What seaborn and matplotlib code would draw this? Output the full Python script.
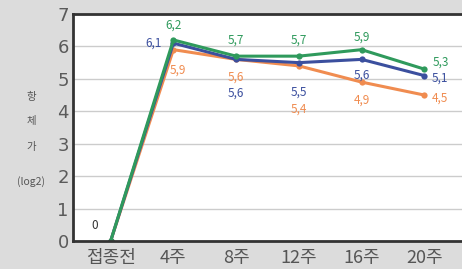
import matplotlib
matplotlib.use("Agg")
import matplotlib.pyplot as plt
import seaborn as sns
import pandas as pd

# ── Data ──────────────────────────────────────────────────────────────────
categories = ["접종전", "4주", "8주", "12주", "16주", "20주"]
green_vals = [0, 6.2, 5.7, 5.7, 5.9, 5.3]
blue_vals = [0, 6.1, 5.6, 5.5, 5.6, 5.1]
orange_vals = [0, 5.9, 5.6, 5.4, 4.9, 4.5]
y_ticks = [0, 1, 2, 3, 4, 5, 6, 7]

GREEN = "#2f9a5c"
BLUE = "#3b4f9e"
ORANGE = "#f08c50"

sns.set_theme(style="white")
plt.rcParams["font.family"] = ["Noto Sans CJK KR", "DejaVu Sans"]

df = pd.DataFrame({
    "x": list(range(len(categories))) * 3,
    "y": green_vals + blue_vals + orange_vals,
    "series": ["green"] * 6 + ["blue"] * 6 + ["orange"] * 6,
})

fig = plt.figure(figsize=(4.62, 2.69), dpi=100, facecolor="#dcdcdc")
ax = fig.add_axes([0.158, 0.104, 0.842, 0.844])
ax.set_facecolor("white")

palette = {"green": GREEN, "blue": BLUE, "orange": ORANGE}
sns.lineplot(data=df, x="x", y="y", hue="series", palette=palette,
             hue_order=["orange", "blue", "green"], marker="o",
             markersize=4.5, markeredgewidth=0, lw=2.2, legend=False, ax=ax)

ax.set_xlim(-0.6, 5.6)
ax.set_ylim(0, 7)
ax.set_yticks(y_ticks)
ax.set_yticklabels([str(t) for t in y_ticks], fontsize=13, color="#5a5a5a",
                   family="DejaVu Sans")
ax.set_xticks(range(len(categories)))
ax.set_xticklabels(categories, fontsize=13, color="#555555")
ax.tick_params(axis="x", which="major", length=0, pad=6)
ax.tick_params(axis="y", length=0, pad=3)
ax.set_xticks([i + 0.5 for i in range(-1, 5)], minor=True)
ax.tick_params(axis="x", which="minor", direction="in", length=6,
               width=1, color="#444444")
ax.set_xlabel("")
ax.set_ylabel("")

ax.grid(axis="y", color="#cccccc", lw=1)
ax.set_axisbelow(True)
for side in ["left", "bottom", "top"]:
    ax.spines[side].set_color("#333333")
    ax.spines[side].set_linewidth(2)
ax.spines["right"].set_visible(False)

# ── Value labels (offsets in pixels from each point) ─────────────────────
lab = dict(fontsize=8.5, ha="center", va="center",
           textcoords="offset pixels")


def fmt(v):
    return f"{v}".replace(".", ",")


ax.annotate("0", (0, 0), xytext=(-16, 16), color="#333333", **lab)

green_off = [None, (0, 15), (0, 16), (0, 16), (0, 13), (16, 7)]
blue_off = [None, (-20, 0), (0, -34), (0, -30), (0, -16), (16, -3)]
orange_off = [None, (4, -20), (0, -18), (0, -43), (0, -18), (16, -3)]

for vals, offs, col in [(green_vals, green_off, GREEN),
                        (blue_vals, blue_off, BLUE),
                        (orange_vals, orange_off, ORANGE)]:
    for i in range(1, len(vals)):
        ax.annotate(fmt(vals[i]), (i, vals[i]), xytext=offs[i], color=col,
                    **lab)

# ── Y axis title, stacked ────────────────────────────────────────────────
for txt, yy in [("항", 0.64), ("체", 0.55), ("가", 0.455), ("(log2)", 0.325)]:
    fig.text(0.068, yy, txt, fontsize=7.5, color="#555555",
             ha="center", va="center")

fig.savefig("out.png", dpi=100, facecolor=fig.get_facecolor())
